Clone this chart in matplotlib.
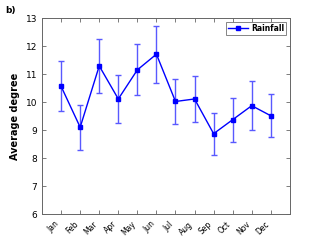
import matplotlib
matplotlib.use("Agg")
import matplotlib.pyplot as plt
import matplotlib.transforms as mtransforms
import numpy as np

months = ['Jan', 'Feb', 'Mar', 'Apr', 'May', 'Jun', 'Jul', 'Aug', 'Sep', 'Oct', 'Nov', 'Dec']
rainfall = [10.56, 9.10, 11.29, 10.11, 11.15, 11.71, 10.02, 10.11, 8.87, 9.37, 9.87, 9.51]
err_up = [11.45, 9.90, 12.25, 10.95, 12.07, 12.72, 10.82, 10.93, 9.62, 10.15, 10.75, 10.29]
err_low = [9.69, 8.30, 10.34, 9.25, 10.24, 10.68, 9.20, 9.30, 8.12, 8.58, 9.01, 8.74]

x = np.arange(1, len(months) + 1)
y = np.array(rainfall)
yerr = [y - np.array(err_low), np.array(err_up) - y]

fig = plt.figure(figsize=(3.21, 2.41), dpi=100)
ax = fig.add_axes([0.131, 0.112, 0.772, 0.813])

ax.errorbar(x, y, yerr=yerr, fmt='none', ecolor=(0.35, 0.35, 1.0), elinewidth=1.0,
            capsize=2.5, capthick=1.0)
ax.plot(x, y, '-s', color='blue', lw=1.0, ms=3.5, label='Rainfall')

ax.set_xlim(0, 13)
ax.set_ylim(6, 13)
ax.set_xticks(x)
ax.set_xticklabels(months, rotation=45, fontsize=5.5, ha='right')
# nudge the month labels a little right so they end under the ticks
shift = mtransforms.ScaledTranslation(3 / 72, 0, fig.dpi_scale_trans)
for lab in ax.get_xticklabels():
    lab.set_transform(lab.get_transform() + shift)
ax.set_yticks(range(6, 14))
ax.tick_params(axis='y', labelsize=6.5)
ax.tick_params(axis='x', pad=4)
ax.tick_params(direction='in', top=True, right=True, length=3, width=0.6, color='0.4')
for s in ax.spines.values():
    s.set_color('0.4')
    s.set_linewidth(0.7)
ax.set_ylabel('Average degree', fontsize=7, fontweight='bold')

leg = ax.legend(loc='upper right', prop={'weight': 'bold', 'size': 5.5},
                fancybox=False, edgecolor='0.4', borderpad=0.25, handlelength=2.6,
                handletextpad=0.4, markerscale=0.8, borderaxespad=0.5)
leg.get_frame().set_linewidth(0.7)

fig.text(0.015, 0.955, 'b)', fontsize=6.5, fontweight='bold', va='center')

fig.savefig('out.png', dpi=100)
